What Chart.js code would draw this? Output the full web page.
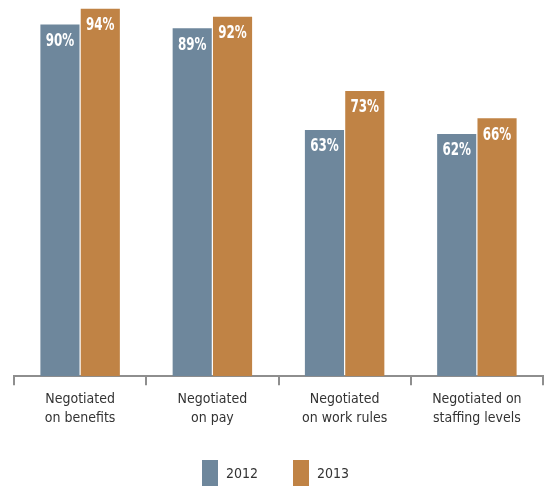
<!DOCTYPE html>
<html>
<head>
<meta charset="utf-8">
<script src="https://cdn.jsdelivr.net/npm/chart.js@4.4.1/dist/chart.umd.min.js"></script>
<style>
  html, body { margin: 0; padding: 0; background: #fff; }
  #wrap { width: 545px; height: 486px; position: relative; }
</style>
</head>
<body>
<div id="wrap"><canvas id="negChart"></canvas></div>
<script>
// data
const categories = [
    ['Negotiated', 'on benefits'],
    ['Negotiated', 'on pay'],
    ['Negotiated', 'on work rules'],
    ['Negotiated on', 'staffing levels']
];
const years = ['2012', '2013'];
const values2012 = [90, 89, 63, 62];
const values2013 = [94, 92, 73, 66];

const COLOR_2012 = '#6e879c';
const COLOR_2013 = '#c08345';
const TEXT_COLOR = '#333333';
const AXIS_COLOR = '#8e8e8e';
const FONT = '"Liberation Sans Narrow", "DejaVu Sans Condensed", "Roboto Condensed", sans-serif';

// labels in white at the top of each bar (squeezed a bit, the original font is condensed)
const barLabels = {
    id: 'barLabels',
    afterDatasetsDraw(chart) {
        const ctx = chart.ctx;
        ctx.save();
        ctx.fillStyle = '#fff';
        ctx.font = 'bold 17px ' + FONT;
        ctx.textAlign = 'center';
        ctx.textBaseline = 'middle';
        chart.data.datasets.forEach((ds, i) => {
            chart.getDatasetMeta(i).data.forEach((bar, j) => {
                ctx.save();
                ctx.translate(bar.x, bar.y + 17);
                ctx.scale(0.78, 1);
                ctx.fillText(ds.data[j] + '%', 0, 0);
                ctx.restore();
            });
        });
        ctx.restore();
    }
};

// legend drawn by hand, so spacing can match
const customLegend = {
    id: 'customLegend',
    afterDraw(chart) {
        const ctx = chart.ctx;
        const startX = [202, 293];
        ctx.save();
        ctx.font = '14px ' + FONT;
        ctx.textBaseline = 'middle';
        chart.data.datasets.forEach((ds, i) => {
            ctx.fillStyle = ds.backgroundColor;
            ctx.fillRect(startX[i], 460, 16, 28);
            ctx.fillStyle = TEXT_COLOR;
            ctx.fillText(ds.label, startX[i] + 24, 474);
        });
        ctx.restore();
    }
};

new Chart(document.getElementById('negChart'), {
    type: 'bar',
    data: {
        labels: categories,
        datasets: [
            { label: years[0], data: values2012, backgroundColor: COLOR_2012 },
            { label: years[1], data: values2013, backgroundColor: COLOR_2013 }
        ]
    },
    options: {
        responsive: true,
        maintainAspectRatio: false,
        animation: false,
        categoryPercentage: 0.61,
        barPercentage: 0.97,
        layout: { padding: { left: 14, right: 2, top: 1, bottom: 53 } },
        plugins: {
            legend: { display: false },
            tooltip: { enabled: false }
        },
        scales: {
            x: {
                grid: {
                    offset: true,
                    drawOnChartArea: false,
                    drawTicks: true,
                    tickLength: 9,
                    color: AXIS_COLOR,
                    lineWidth: 2
                },
                border: { display: true, color: AXIS_COLOR, width: 2 },
                ticks: {
                    color: TEXT_COLOR,
                    font: { family: FONT, size: 14, lineHeight: 1.35 },
                    padding: 5,
                    maxRotation: 0
                }
            },
            y: {
                display: false,
                min: 0,
                max: 96
            }
        }
    },
    plugins: [barLabels, customLegend]
});
</script>
</body>
</html>
